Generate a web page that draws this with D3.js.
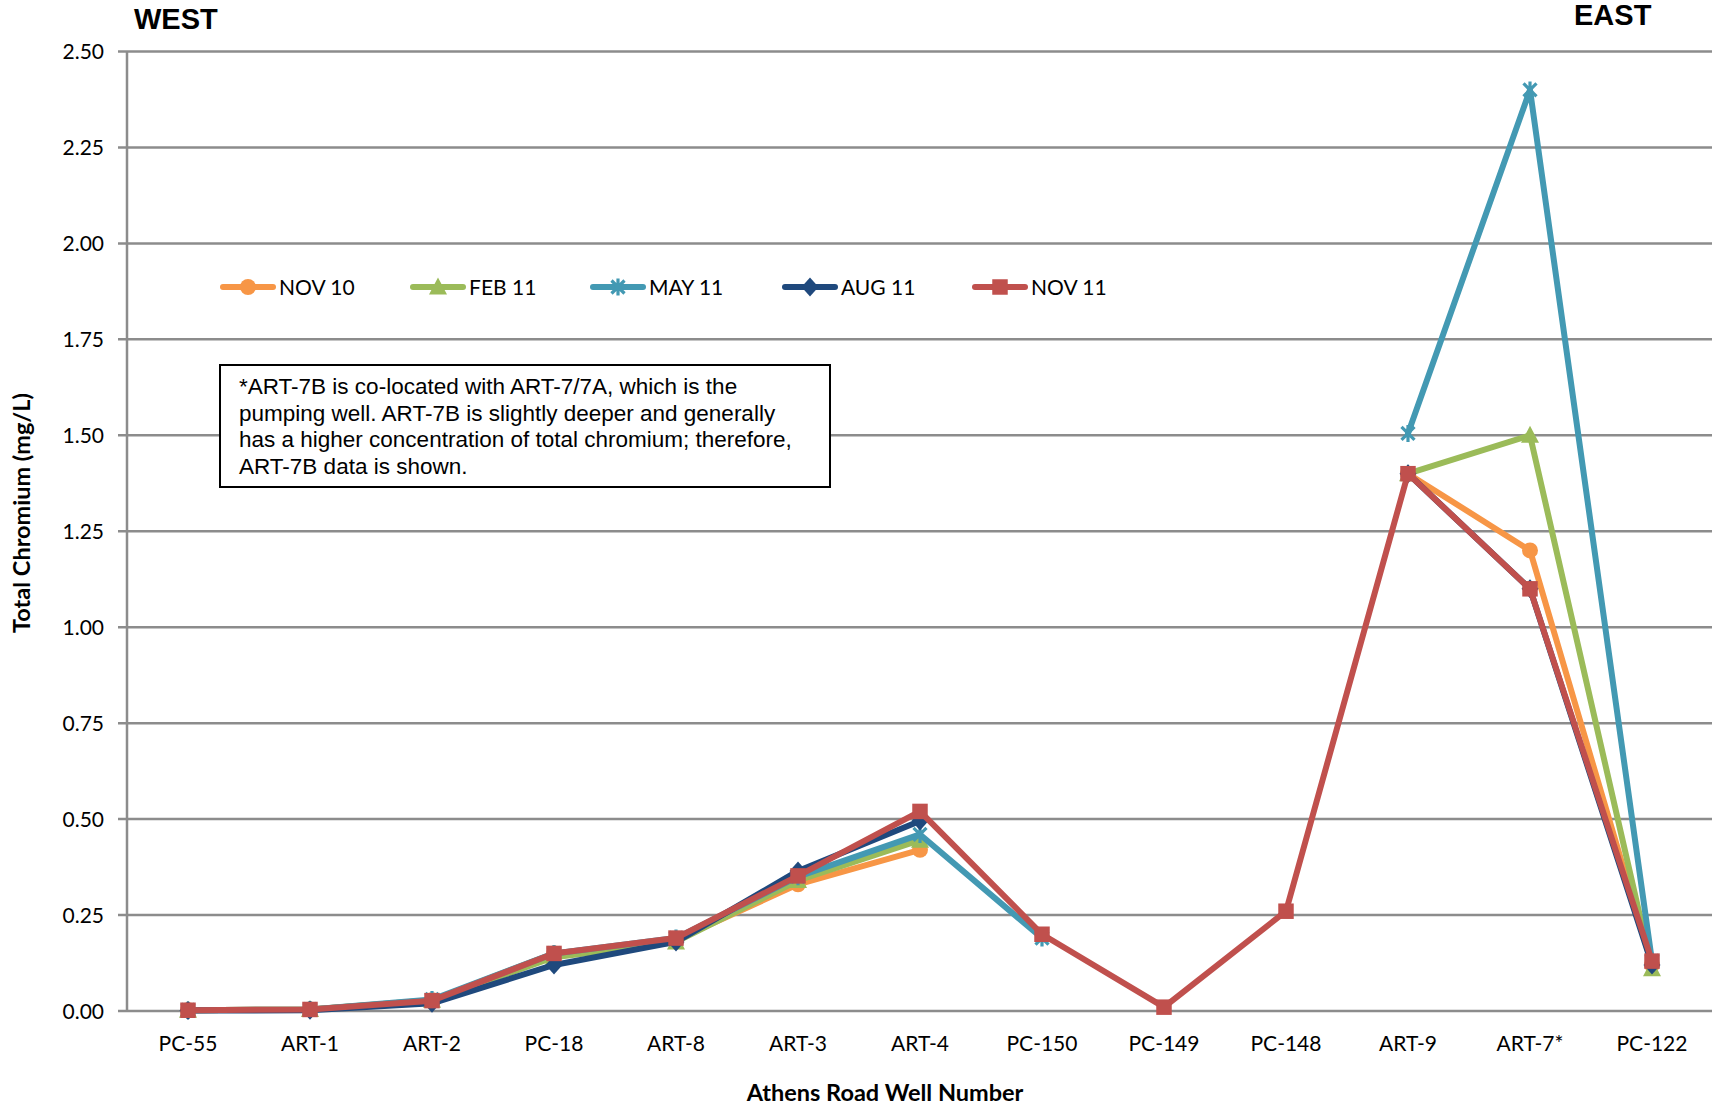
<!DOCTYPE html>
<html>
<head>
<meta charset="utf-8">
<script src="https://cdn.jsdelivr.net/npm/d3@7"></script>
<style>
  body { margin: 0; background: #fff; }
  svg { display: block; }
</style>
</head>
<body>
<div id="chart"></div>
<script>
// well order, west -> east
const wells = ["PC-55", "ART-1", "ART-2", "PC-18", "ART-8", "ART-3", "ART-4", "PC-150", "PC-149", "PC-148", "ART-9", "ART-7*", "PC-122"];

// total chromium (mg/L), null = not sampled
const nov10 = [0.002, 0.004, 0.028, 0.15, 0.185, 0.33, 0.42, null, null, null, 1.40, 1.20, 0.12];
const feb11 = [0.002, 0.004, 0.028, 0.14, 0.18, 0.34, 0.445, null, null, null, 1.40, 1.50, 0.11];
const may11 = [0.002, 0.004, 0.03, 0.15, 0.19, 0.35, 0.46, 0.19, null, null, 1.505, 2.40, 0.13];
const aug11 = [0.001, 0.002, 0.02, 0.12, 0.18, 0.365, 0.495, null, null, null, 1.40, 1.10, 0.12];
const nov11 = [0.002, 0.004, 0.027, 0.15, 0.19, 0.352, 0.52, 0.20, 0.01, 0.26, 1.40, 1.10, 0.13];

const seriesNames = ["NOV 10", "FEB 11", "MAY 11", "AUG 11", "NOV 11"];
const yTicks = [0, 0.25, 0.5, 0.75, 1.0, 1.25, 1.5, 1.75, 2.0, 2.25, 2.5];

const note = [
  "*ART-7B is co-located with ART-7/7A, which is the",
  "pumping well. ART-7B is slightly deeper and generally",
  "has a higher concentration of total chromium; therefore,",
  "ART-7B data is shown."
];

const series = [
  { name: seriesNames[0], values: nov10, color: "#f79646", marker: "circle" },
  { name: seriesNames[1], values: feb11, color: "#9bbb59", marker: "triangle" },
  { name: seriesNames[2], values: may11, color: "#4399b3", marker: "star" },
  { name: seriesNames[3], values: aug11, color: "#1f497d", marker: "diamond" },
  { name: seriesNames[4], values: nov11, color: "#c0504d", marker: "square" }
];

const width = 1712, height = 1110;
const plot = { left: 127, right: 1713, top: 51.5, bottom: 1011 };
const gridColor = "#8c8c8c";
const labelFont = "Lato, 'Open Sans', sans-serif";

const svg = d3.select("#chart").append("svg")
  .attr("width", width)
  .attr("height", height);

const x = d3.scalePoint()
  .domain(wells)
  .range([plot.left, plot.right])
  .padding(0.5);

const y = d3.scaleLinear()
  .domain([0, 2.5])
  .range([plot.bottom, plot.top]);

// gridlines + tick stubs
svg.append("g")
  .selectAll("line")
  .data(yTicks)
  .join("line")
  .attr("x1", plot.left - 9)
  .attr("x2", plot.right)
  .attr("y1", d => y(d))
  .attr("y2", d => y(d))
  .attr("stroke", gridColor)
  .attr("stroke-width", 2.5);

// y axis line
svg.append("line")
  .attr("x1", plot.left).attr("x2", plot.left)
  .attr("y1", y(2.5)).attr("y2", y(0))
  .attr("stroke", gridColor)
  .attr("stroke-width", 2.5);

// y tick labels
svg.append("g")
  .selectAll("text")
  .data(yTicks)
  .join("text")
  .attr("x", 104)
  .attr("y", d => y(d))
  .attr("dy", "0.36em")
  .attr("text-anchor", "end")
  .style("font-family", labelFont)
  .style("font-size", "21px")
  .attr("fill", "#000")
  .text(d => d.toFixed(2));

// x tick labels
svg.append("g")
  .selectAll("text")
  .data(wells)
  .join("text")
  .attr("x", d => x(d))
  .attr("y", 1051)
  .attr("text-anchor", "middle")
  .style("font-family", labelFont)
  .style("font-size", "21px")
  .attr("fill", "#000")
  .text(d => d);

// axis titles
svg.append("text")
  .attr("x", 885)
  .attr("y", 1101)
  .attr("text-anchor", "middle")
  .style("font-family", labelFont)
  .style("font-size", "23.5px")
  .style("font-weight", "bold")
  .text("Athens Road Well Number");

svg.append("text")
  .attr("transform", "translate(30,513) rotate(-90)")
  .attr("text-anchor", "middle")
  .style("font-family", labelFont)
  .style("font-size", "23.5px")
  .style("font-weight", "bold")
  .text("Total Chromium (mg/L)");

// WEST / EAST
svg.append("text")
  .attr("x", 134).attr("y", 29)
  .style("font-family", "'Liberation Sans', Arial, sans-serif")
  .style("font-size", "29px")
  .style("font-weight", "bold")
  .text("WEST");

svg.append("text")
  .attr("x", 1574).attr("y", 25)
  .style("font-family", "'Liberation Sans', Arial, sans-serif")
  .style("font-size", "29px")
  .style("font-weight", "bold")
  .text("EAST");

// marker shapes
function markerPath(type) {
  if (type === "circle") return d3.symbol(d3.symbolCircle, 200)();
  if (type === "square") return d3.symbol(d3.symbolSquare, 240)();
  if (type === "diamond") return "M0,-9.5L8.5,0L0,9.5L-8.5,0Z";
  if (type === "triangle") return "M0,-9.5L9,7.5L-9,7.5Z";
  // excel style star: X with vertical bar
  return "M-6.5,-6.5L6.5,6.5M6.5,-6.5L-6.5,6.5M0,-8.5L0,8.5";
}

function drawMarker(g, type, color) {
  const p = g.append("path").attr("d", markerPath(type));
  if (type === "star") {
    p.attr("fill", "none").attr("stroke", color).attr("stroke-width", 3.2);
  } else {
    p.attr("fill", color);
  }
}

const line = d3.line()
  .defined(d => d != null)
  .x((d, i) => x(wells[i]))
  .y(d => y(d));

// series
series.forEach(s => {
  const g = svg.append("g");
  g.append("path")
    .attr("d", line(s.values))
    .attr("fill", "none")
    .attr("stroke", s.color)
    .attr("stroke-width", 6)
    .attr("stroke-linejoin", "round")
    .attr("stroke-linecap", "round");

  s.values.forEach((v, i) => {
    if (v == null) return;
    const m = g.append("g").attr("transform", `translate(${x(wells[i])},${y(v)})`);
    drawMarker(m, s.marker, s.color);
  });
});

// legend
const legendX = [248, 438, 618, 810, 1000];
series.forEach((s, i) => {
  const g = svg.append("g").attr("transform", `translate(${legendX[i]},287)`);
  g.append("line")
    .attr("x1", -25).attr("x2", 25)
    .attr("stroke", s.color)
    .attr("stroke-width", 6)
    .attr("stroke-linecap", "round");
  drawMarker(g, s.marker, s.color);
  g.append("text")
    .attr("x", 31)
    .attr("dy", "0.36em")
    .style("font-family", labelFont)
    .style("font-size", "21px")
    .text(s.name);
});

// note box
svg.append("rect")
  .attr("x", 220).attr("y", 365)
  .attr("width", 610).attr("height", 122)
  .attr("fill", "#fff")
  .attr("stroke", "#000")
  .attr("stroke-width", 2);

svg.append("g")
  .selectAll("text")
  .data(note)
  .join("text")
  .attr("x", 239)
  .attr("y", (d, i) => 394 + i * 26.7)
  .style("font-family", "'Liberation Sans', Arial, sans-serif")
  .style("font-size", "22.5px")
  .text(d => d);
</script>
</body>
</html>
